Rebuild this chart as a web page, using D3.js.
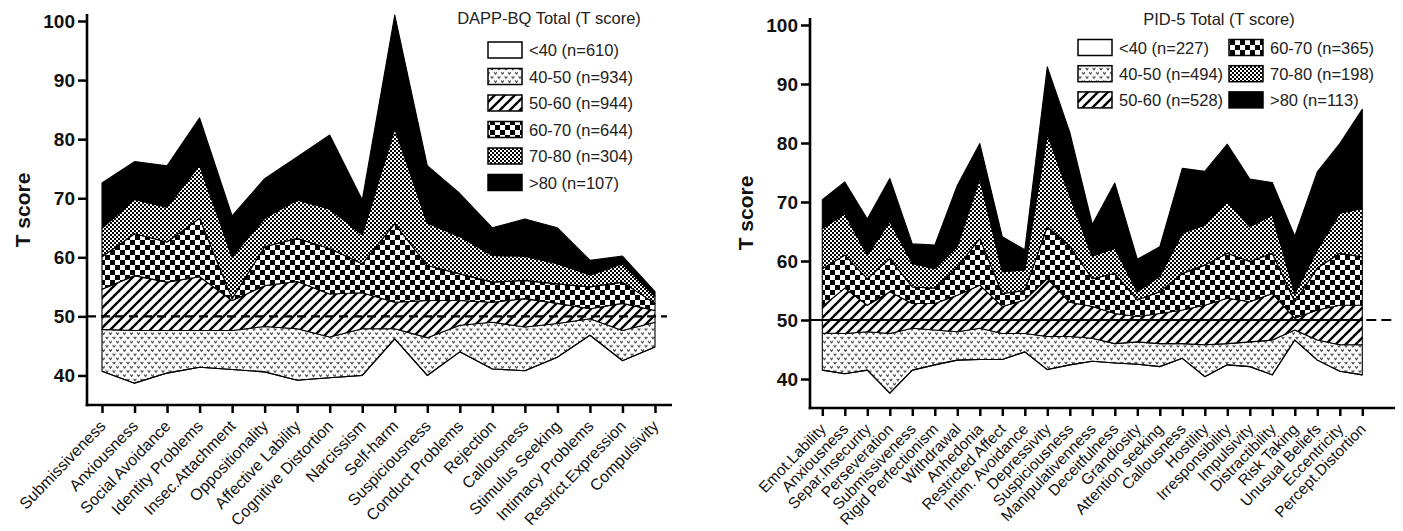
<!DOCTYPE html>
<html>
<head>
<meta charset="utf-8">
<script src="https://cdn.jsdelivr.net/npm/d3@7"></script>
<style>
body { margin: 0; background: #fff; }
svg text { font-family: "Liberation Sans", Arial, Helvetica, sans-serif; }
</style>
</head>
<body>
<div id="chart"></div>
<script>
// DAPP-BQ panel (left)
var dappCategories = ["Submissiveness", "Anxiousness", "Social Avoidance", "Identity Problems", "Insec.Attachment",
  "Oppositionality", "Affective Lability", "Cognitive Distortion", "Narcissism", "Self-harm", "Suspiciousness",
  "Conduct Problems", "Rejection", "Callousness", "Stimulus Seeking", "Intimacy Problems", "Restrict.Expression", "Compulsivity"];
var dappLt40   = [40.7, 38.7, 40.4, 41.4, 41.0, 40.6, 39.2, 39.6, 40.0, 46.2, 40.0, 44.0, 41.1, 40.8, 43.1, 46.8, 42.5, 44.8];
var dapp40to50 = [47.8, 47.6, 47.6, 47.6, 47.6, 48.3, 47.9, 46.5, 47.9, 47.9, 46.4, 48.5, 49.0, 48.2, 48.8, 49.6, 47.6, 49.0];
var dapp50to60 = [54.6, 56.9, 55.8, 56.7, 52.7, 55.2, 55.9, 53.8, 54.0, 52.4, 52.7, 52.7, 52.4, 53.0, 52.2, 51.3, 52.2, 51.0];
var dapp60to70 = [60.1, 64.0, 62.6, 66.6, 53.0, 61.8, 63.2, 61.5, 58.9, 65.7, 58.6, 57.2, 55.8, 56.1, 55.5, 55.0, 55.8, 52.2];
var dapp70to80 = [64.9, 69.8, 68.5, 75.6, 60.1, 66.6, 69.7, 68.2, 63.8, 81.8, 65.8, 63.5, 60.3, 60.2, 58.9, 57.0, 58.9, 53.4];
var dappGt80   = [72.6, 76.2, 75.5, 83.6, 67.0, 73.3, 77.0, 80.7, 69.7, 101.0, 75.5, 70.8, 65.0, 66.5, 65.0, 59.5, 60.2, 54.2];
var dappLegend = ["<40 (n=610)", "40-50 (n=934)", "50-60 (n=944)", "60-70 (n=644)", "70-80 (n=304)", ">80 (n=107)"];
var dappTitle = "DAPP-BQ Total (T score)";

// PID-5 panel (right)
var pidCategories = ["Emot.Lability", "Anxiousness", "Separ.Insecurity", "Perseveration", "Submissiveness",
  "Rigid Perfectionism", "Withdrawal", "Anhedonia", "Restricted Affect", "Intim. Avoidance", "Depressivity",
  "Suspiciousness", "Manipulativenness", "Deceitfulness", "Grandiosity", "Attention seeking", "Callousness",
  "Hostility", "Irresponsibility", "Impulsivity", "Distractibility", "Risk Taking", "Unusual Beliefs",
  "Eccentricity", "Percept.Distortion"];
var pidLt40   = [41.5, 40.9, 41.5, 37.6, 41.5, 42.4, 43.2, 43.3, 43.3, 44.6, 41.6, 42.4, 43.0, 42.7, 42.5, 42.1, 43.5, 40.4, 42.4, 42.1, 40.7, 46.6, 43.2, 41.3, 40.7];
var pid40to50 = [47.8, 47.7, 48.0, 47.7, 48.6, 48.3, 48.0, 48.6, 47.7, 47.7, 47.2, 47.2, 46.9, 46.0, 46.3, 46.0, 46.0, 45.8, 46.0, 46.3, 46.6, 48.3, 46.6, 45.8, 45.8];
var pid50to60 = [52.3, 55.4, 52.5, 54.8, 52.8, 52.8, 54.2, 55.9, 52.3, 53.4, 57.0, 53.0, 52.3, 51.1, 50.6, 51.1, 51.7, 52.5, 53.7, 53.1, 54.5, 50.3, 51.7, 52.5, 52.5];
var pid60to70 = [58.7, 61.0, 57.0, 60.4, 55.6, 55.4, 59.0, 63.8, 54.5, 55.0, 65.8, 62.5, 57.0, 57.9, 53.4, 54.8, 57.9, 59.3, 61.3, 59.9, 61.3, 53.1, 58.8, 61.3, 60.7];
var pid70to80 = [65.5, 68.0, 61.0, 66.7, 59.6, 58.7, 62.5, 74.0, 58.2, 58.5, 81.5, 71.0, 60.8, 62.2, 54.8, 57.4, 64.7, 66.1, 70.1, 65.8, 67.8, 54.5, 61.9, 68.1, 68.9];
var pidGt80   = [70.4, 73.4, 67.1, 74.0, 62.9, 62.7, 72.8, 79.9, 64.1, 61.9, 92.9, 81.8, 66.2, 73.2, 60.3, 62.4, 75.7, 75.2, 79.8, 73.9, 73.3, 64.2, 75.1, 79.9, 85.7];
var pidLegend = ["<40 (n=227)", "40-50 (n=494)", "50-60 (n=528)", "60-70 (n=365)", "70-80 (n=198)", ">80 (n=113)"];
var pidTitle = "PID-5 Total (T score)";

var yTicks = [40, 50, 60, 70, 80, 90, 100];
var refValue = 50;

var W = 1403, H = 531;
var fills = ["#fff", "url(#pDots)", "url(#pHatch)", "url(#pCheck)", "url(#pFine)", "#000"];

var svg = d3.select("#chart").append("svg").attr("width", W).attr("height", H);
var defs = svg.append("defs");

// 40-50: little grey heart-ish marks, staggered rows
var pd = defs.append("pattern").attr("id", "pDots").attr("patternUnits", "userSpaceOnUse")
  .attr("width", 7).attr("height", 8.4);
pd.append("rect").attr("width", 7).attr("height", 8.4).attr("fill", "#fff");
pd.append("path").attr("d", "M0.6,0.8 L2,2.6 L3.4,0.8 M4.1,5 L5.5,6.8 L6.9,5")
  .attr("stroke", "#3c3c3c").attr("stroke-width", 1.15).attr("fill", "none");

// 50-60: diagonal hatch
var ph = defs.append("pattern").attr("id", "pHatch").attr("patternUnits", "userSpaceOnUse")
  .attr("width", 10).attr("height", 10);
ph.append("rect").attr("width", 10).attr("height", 10).attr("fill", "#fff");
ph.append("path").attr("d", "M-2,2 L2,-2 M0,10 L10,0 M8,12 L12,8")
  .attr("stroke", "#000").attr("stroke-width", 2.4);

// 60-70: coarse checkerboard
var pc = defs.append("pattern").attr("id", "pCheck").attr("patternUnits", "userSpaceOnUse")
  .attr("width", 10).attr("height", 10);
pc.append("rect").attr("width", 10).attr("height", 10).attr("fill", "#fff");
pc.append("rect").attr("width", 5).attr("height", 5).attr("fill", "#000");
pc.append("rect").attr("x", 5).attr("y", 5).attr("width", 5).attr("height", 5).attr("fill", "#000");

// 70-80: fine checkerboard
var pf = defs.append("pattern").attr("id", "pFine").attr("patternUnits", "userSpaceOnUse")
  .attr("width", 4).attr("height", 4);
pf.append("rect").attr("width", 4).attr("height", 4).attr("fill", "#fff");
pf.append("rect").attr("width", 2).attr("height", 2).attr("fill", "#000");
pf.append("rect").attr("x", 2).attr("y", 2).attr("width", 2).attr("height", 2).attr("fill", "#000");

function drawPanel(p) {
  var series = p.series;
  var x = d3.scalePoint().domain(p.cats).range(p.xRange);
  var y = d3.scaleLinear().domain([35, 100]).range(p.yRange);
  var g = svg.append("g");

  // layered areas, each between a group's line and the one below it
  for (var i = 1; i < series.length; i++) {
    var lo = series[i - 1], hi = series[i];
    var area = d3.area()
      .x(function(d, k) { return x(p.cats[k]); })
      .y0(function(d, k) { return y(lo[k]); })
      .y1(function(d, k) { return y(hi[k]); });
    g.append("path").datum(hi).attr("d", area)
      .attr("fill", fills[i]).attr("stroke", "#000").attr("stroke-width", 1.1)
      .attr("stroke-linejoin", "round");
  }
  var line = d3.line().x(function(d, k) { return x(p.cats[k]); }).y(function(d) { return y(d); });
  g.append("path").datum(series[0]).attr("d", line)
    .attr("fill", "none").attr("stroke", "#000").attr("stroke-width", 1.1);

  // reference line at T=50
  var xLast = x(p.cats[p.cats.length - 1]);
  if (p.refSolid) {
    g.append("line").attr("x1", p.axisX).attr("x2", xLast).attr("y1", y(refValue)).attr("y2", y(refValue))
      .attr("stroke", "#000").attr("stroke-width", 2.2);
    g.append("line").attr("x1", xLast + 4).attr("x2", p.refEnd).attr("y1", y(refValue)).attr("y2", y(refValue))
      .attr("stroke", "#000").attr("stroke-width", 2.2).attr("stroke-dasharray", "10,5");
  } else {
    g.append("line").attr("x1", p.axisX).attr("x2", p.refEnd).attr("y1", y(refValue)).attr("y2", y(refValue))
      .attr("stroke", "#000").attr("stroke-width", 2.2).attr("stroke-dasharray", "9,5");
  }

  // y axis
  var yAxis = d3.axisLeft(y).tickValues(yTicks).tickSize(9).tickPadding(3);
  var ga = g.append("g").attr("transform", "translate(" + p.axisX + ",0)").call(yAxis);
  ga.select(".domain").remove();
  ga.selectAll(".tick line").attr("stroke", "#000").attr("stroke-width", 2.5);
  ga.selectAll(".tick text").attr("font-size", 19).attr("font-weight", "bold").attr("fill", "#111")
    .attr("font-family", "Liberation Sans, Arial, sans-serif");
  g.append("line").attr("x1", p.axisX).attr("x2", p.axisX).attr("y1", p.axisTop).attr("y2", p.axisY + 1.2)
    .attr("stroke", "#000").attr("stroke-width", 2.6);

  // x axis
  var xAxis = d3.axisBottom(x).tickSize(8).tickSizeOuter(0);
  var gx = g.append("g").attr("transform", "translate(0," + p.axisY + ")").call(xAxis);
  gx.select(".domain").remove();
  gx.selectAll(".tick line").attr("stroke", "#000").attr("stroke-width", 2.5);
  gx.selectAll(".tick text")
    .attr("font-size", p.labelSize).attr("fill", "#111").attr("font-family", "Liberation Sans, Arial, sans-serif")
    .attr("text-anchor", "end").attr("dy", null).attr("y", null)
    .attr("transform", "translate(4,22) rotate(-46)");
  g.append("line").attr("x1", p.axisX - 1.3).attr("x2", p.axisEnd).attr("y1", p.axisY).attr("y2", p.axisY)
    .attr("stroke", "#000").attr("stroke-width", 2.6);

  // y title
  g.append("text").attr("transform", "translate(" + p.yTitleX + "," + p.yTitleY + ") rotate(-90)")
    .attr("text-anchor", "middle").attr("dominant-baseline", "central")
    .attr("font-size", 21).attr("font-weight", "bold").attr("fill", "#111").text("T score");

  // legend
  g.append("text").attr("x", p.legTitleX).attr("y", p.legTitleY).attr("text-anchor", "middle")
    .attr("font-size", 16.5).attr("fill", "#222").text(p.title);
  p.legend.forEach(function(lab, i) {
    var col = Math.floor(i / p.legRows), row = i % p.legRows;
    var bx = p.legX + col * p.legColW, cy = p.legY + row * p.legDy;
    g.append("rect").attr("x", bx).attr("y", cy - 8).attr("width", 34).attr("height", 16)
      .attr("fill", fills[i]).attr("stroke", "#000").attr("stroke-width", 1.5);
    g.append("text").attr("x", bx + 41).attr("y", cy).attr("dominant-baseline", "central")
      .attr("font-size", 16.5).attr("fill", "#222").text(lab);
  });
}

drawPanel({
  cats: dappCategories,
  series: [dappLt40, dapp40to50, dapp50to60, dapp60to70, dapp70to80, dappGt80],
  legend: dappLegend, title: dappTitle,
  xRange: [102, 655], yRange: [405, 21],
  axisX: 87, axisY: 405, axisTop: 14, axisEnd: 672, refEnd: 667, refSolid: false,
  yTitleX: 22, yTitleY: 210, labelSize: 16,
  legTitleX: 549, legTitleY: 24, legX: 488, legY: 50, legDy: 26.5, legRows: 6, legColW: 0
});

drawPanel({
  cats: pidCategories,
  series: [pidLt40, pid40to50, pid50to60, pid60to70, pid70to80, pidGt80],
  legend: pidLegend, title: pidTitle,
  xRange: [822.3, 1362.3], yRange: [408.5, 25],
  axisX: 810, axisY: 408, axisTop: 18, axisEnd: 1395, refEnd: 1392, refSolid: true,
  yTitleX: 745, yTitleY: 213, labelSize: 15.5,
  legTitleX: 1219, legTitleY: 25, legX: 1078, legY: 47.5, legDy: 26.2, legRows: 3, legColW: 151
});
</script>
</body>
</html>
